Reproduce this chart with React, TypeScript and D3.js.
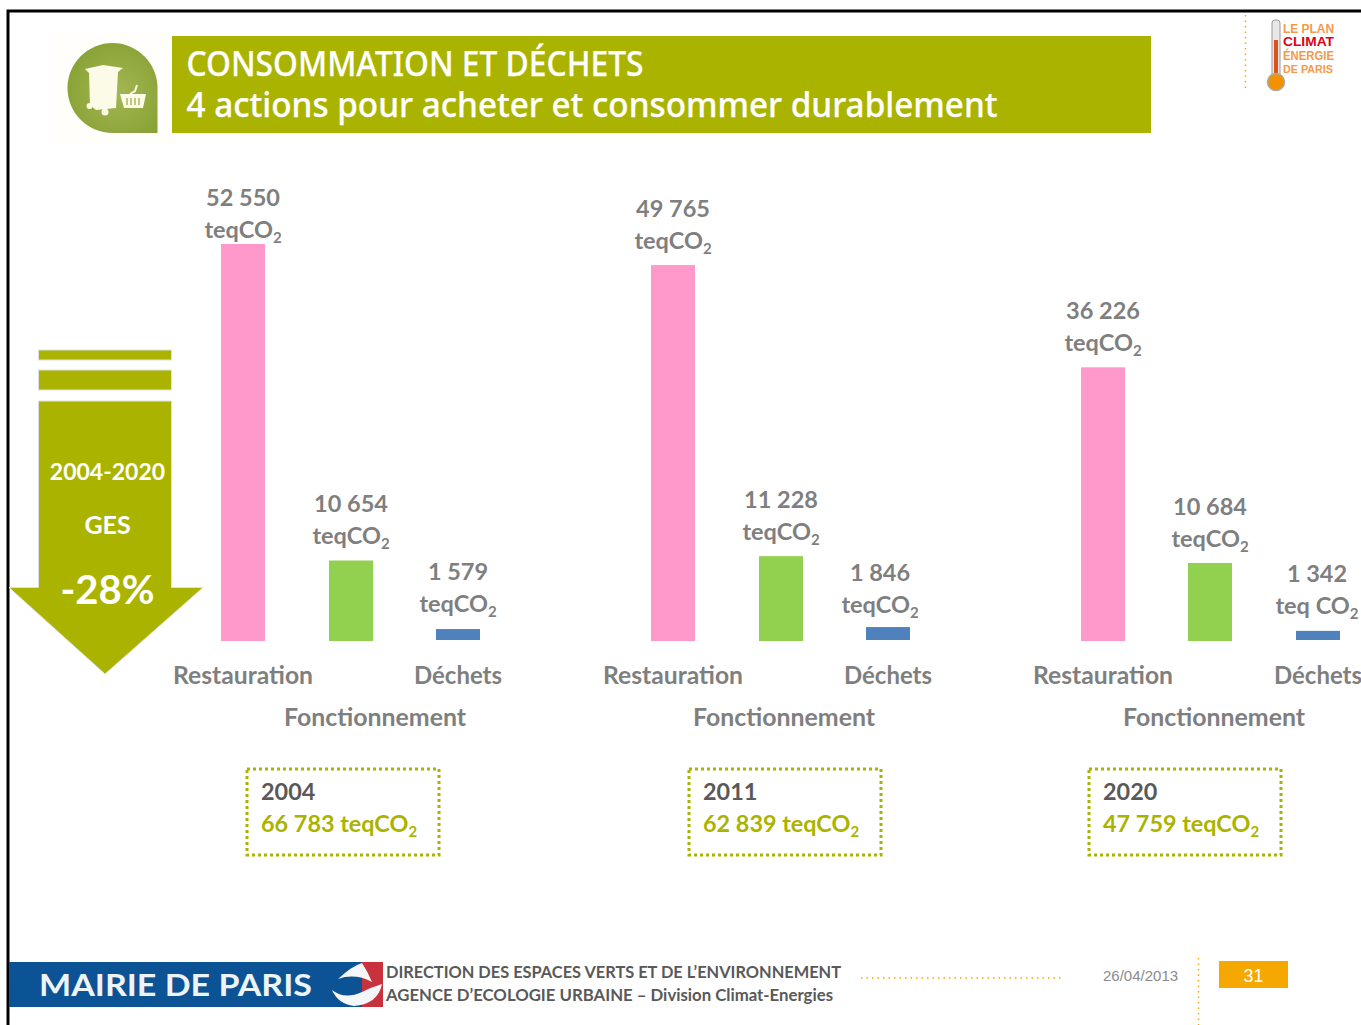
import React from "react";
import * as d3 from "d3";

const years = ["2004", "2011", "2020"];
const totals = ["66 783", "62 839", "47 759"];
const restauration = [52550, 49765, 36226];
const fonctionnement = [10654, 11228, 10684];
const dechets = [1579, 1846, 1342];
// Height actually drawn for the Fonctionnement bars: the 2020 bar stands lower than its printed label.
const fonctionnementDrawn = [10654, 11228, 10330];
const categories = ["Restauration", "Fonctionnement", "Déchets"];
const unitLabels = [
  ["teqCO", "teqCO", "teqCO"],
  ["teqCO", "teqCO", "teqCO"],
  ["teqCO", "teqCO", "teq CO"],
];
const series = [restauration, fonctionnement, dechets];
const drawnSeries = [restauration, fonctionnementDrawn, dechets];
const barColors = ["#FF99CC", "#92D050", "#4F81BD"];

const GREEN = "#AAB400";
const GREY = "#7F7F7F";
const BODY = "Lato, Carlito, sans-serif";

const fmt = (v: number) => d3.format(",")(v).replace(",", " ");

const y = d3.scaleLinear().domain([0, 52550]).range([641, 244]);
const groupX = d3.scalePoint<string>().domain(years).range([243, 1103]);
const catOffset = d3.scaleOrdinal<string, number>().domain(categories).range([0, 108, 215]);

// label layout (first-line baseline and horizontal nudge), per year and category
const labelBase = [
  [205.5, 511.5, 579.5],
  [216.5, 507.5, 580.5],
  [318.5, 514.5, 581.5],
];
const labelDx = [
  [0, 0, 0],
  [0, 0, -8],
  [0, -1, -1],
];
const catWidth = [140, 182, 88];
const fonctionnementX = [375, 784, 1214];

function Co2({ x, y, text, size, fill, anchor = "middle" }: any) {
  return (
    <text x={x} y={y} fontFamily={BODY} fontWeight={700} fontSize={size} fill={fill} textAnchor={anchor}>
      {text}
      <tspan dy={size * 0.22} fontSize={size * 0.64}>2</tspan>
    </text>
  );
}

function CatLabel({ x, y, i }: any) {
  return (
    <text x={x} y={y} textAnchor="middle" fontFamily={BODY} fontWeight={700} fontSize={24} fill={GREY}
      textLength={catWidth[i]} lengthAdjust="spacingAndGlyphs">
      {categories[i]}
    </text>
  );
}

function Chart() {
  return (
    <g>
      {years.map((yr, gi) => {
        const gx = groupX(yr)!;
        return (
          <g key={yr}>
            {categories.map((c, ci) => {
              const v = series[ci][gi];
              const cx = gx + catOffset(c)! - (gi === 2 && ci === 1 ? 1 : 0);
              const top = y(drawnSeries[ci][gi]);
              const lx = cx + labelDx[gi][ci] + (gi === 2 && ci === 1 ? 1 : 0);
              const base = labelBase[gi][ci];
              return (
                <g key={c}>
                  <rect x={cx - 22} y={top} width={44} height={y(0) - top - (ci === 2 ? 1 : 0)} fill={barColors[ci]} />
                  <text x={lx} y={base} textAnchor="middle" fontFamily={BODY} fontWeight={700} fontSize={23.5} fill={GREY}>
                    {fmt(v)}
                  </text>
                  <Co2 x={lx} y={base + 32} text={unitLabels[gi][ci]} size={23.5} fill={GREY} />
                </g>
              );
            })}
            <CatLabel x={gx} y={684} i={0} />
            <CatLabel x={gx + 215} y={684} i={2} />
            <CatLabel x={fonctionnementX[gi]} y={726} i={1} />
          </g>
        );
      })}
    </g>
  );
}

const boxX = [247, 689, 1089];
function TotalBoxes() {
  return (
    <g>
      {years.map((yr, i) => (
        <g key={yr}>
          <rect x={boxX[i]} y={769} width={192} height={86} fill="none" stroke={GREEN} strokeWidth={3} strokeDasharray="3 3" />
          <text x={boxX[i] + 14} y={800} fontFamily={BODY} fontWeight={700} fontSize={23.4} fill="#595959">{yr}</text>
          <Co2 x={boxX[i] + 14} y={832} text={`${totals[i]} teqCO`} size={23.4} fill={GREEN} anchor="start" />
        </g>
      ))}
    </g>
  );
}

function Header() {
  const cream = "#FBFBE8";
  return (
    <g>
      <defs>
        <radialGradient id="drop" cx="0.55" cy="0.55" r="0.6">
          <stop offset="0" stopColor="#A3B653" />
          <stop offset="1" stopColor="#88A235" />
        </radialGradient>
      </defs>
      <rect x={52} y={33} width={120} height={112} fill="#FFFEFA" />
      <path d="M157.5 133 L112.5 133 A45 45 0 1 1 157.5 88 Z" fill="url(#drop)" />
      <path d="M85 69 L103 65 L123 68 L118 72 L116 108 L96 110 L90 105 L89 73 Z" fill={cream} />
      <circle cx={105} cy={112} r={3.5} fill={cream} />
      <circle cx={89.5} cy={106} r={3} fill={cream} />
      <path d="M120 94 L146 94 L143 108 L124 108 Z" fill={cream} />
      <path d="M127 98 V105 M131 98 V105 M135 98 V105 M139 98 V105" stroke="#9DB04A" strokeWidth={1.3} />
      <path d="M130 94 L135 91 L137 85" stroke={cream} strokeWidth={2} fill="none" />
      <rect x={172} y={36} width={979} height={97} fill={GREEN} />
      <g fontFamily="'Noto Sans', sans-serif" fontWeight={500} fontSize={34} fill="#fff" stroke="#fff" strokeWidth={0.25}>
        <text x={186.5} y={76} textLength={457} lengthAdjust="spacingAndGlyphs">CONSOMMATION ET DÉCHETS</text>
        <text x={186.5} y={117} textLength={811} lengthAdjust="spacingAndGlyphs">4 actions pour acheter et consommer durablement</text>
      </g>
      <line x1={1245.5} y1={15} x2={1245.5} y2={92} stroke="#F4A800" strokeWidth={1.5} strokeDasharray="1.5 4" />
      <rect x={1272} y={20} width={8} height={60} rx={3} fill="#E8E8E8" stroke="#999" />
      <rect x={1274} y={40} width={4} height={40} fill="#E0501A" />
      <circle cx={1276} cy={82} r={8.5} fill="#F39200" stroke="#AAA" strokeWidth={1.5} />
      <g fontFamily="'Liberation Sans', sans-serif" fontWeight={700}>
        <text x={1283} y={32.5} fontSize={12} fill="#F39A4A" textLength={51} lengthAdjust="spacingAndGlyphs">LE PLAN</text>
        <text x={1283} y={46} fontSize={13} fill="#E2001A" textLength={51} lengthAdjust="spacingAndGlyphs">CLIMAT</text>
        <text x={1283} y={60} fontSize={12} fill="#F39A4A" textLength={51} lengthAdjust="spacingAndGlyphs">ÉNERGIE</text>
        <text x={1283} y={72.5} fontSize={11} fill="#F39A4A" textLength={50} lengthAdjust="spacingAndGlyphs">DE PARIS</text>
      </g>
    </g>
  );
}

function Arrow() {
  return (
    <g>
      <g fill={GREEN} stroke="#DDE0E0" strokeWidth={1}>
        <rect x={38.5} y={350} width={133} height={10} />
        <rect x={38.5} y={370} width={133} height={20} />
        <path d="M38.5 401 H171.5 V587.5 H203 L105 674 L9 587.5 H38.5 Z" />
      </g>
      <text x={107.5} y={480} textAnchor="middle" fontFamily={BODY} fontWeight={700} fontSize={23} fill="#fff">2004-2020</text>
      <text x={107.5} y={533.5} textAnchor="middle" fontFamily={BODY} fontWeight={700} fontSize={25} fill="#fff">GES</text>
      <text x={107.5} y={604} textAnchor="middle" fontFamily={BODY} fontWeight={700} fontSize={40} fill="#fff">-28%</text>
    </g>
  );
}

function Footer() {
  return (
    <g>
      <rect x={9} y={962} width={374} height={45} fill="#0B5394" />
      <path d="M362 962 H383 V1007 H362 Z" fill="#C8323C" />
      <path d="M338 979 Q352 966 362 963 Q368 972 372 982 Q355 973 338 979 Z" fill="#F4F6F8" />
      <path d="M332 990 Q345 1000 362 992 Q372 987 382 984 Q378 1004 354 1006 Q338 1004 332 990 Z" fill="#F4F6F8" />
      <text x={39} y={996} fontFamily="Lato, sans-serif" fontWeight={700} fontSize={31} fill="#EEF4F6" textLength={273} lengthAdjust="spacingAndGlyphs">MAIRIE DE PARIS</text>
      <text x={386} y={978} fontFamily={BODY} fontWeight={700} fontSize={17} fill="#595959" textLength={455} lengthAdjust="spacingAndGlyphs">DIRECTION DES ESPACES VERTS ET DE L’ENVIRONNEMENT</text>
      <text x={386} y={1001} fontFamily={BODY} fontWeight={700} fontSize={17} fill="#595959" textLength={447} lengthAdjust="spacingAndGlyphs">AGENCE D’ECOLOGIE URBAINE – Division Climat-Energies</text>
      <line x1={861} y1={978} x2={1063} y2={978} stroke="#F4A800" strokeWidth={1.5} strokeDasharray="1.5 4" />
      <text x={1103} y={981} fontFamily="'Liberation Sans', sans-serif" fontSize={15} fill="#8B8B8B">26/04/2013</text>
      <line x1={1198.5} y1={958} x2={1198.5} y2={1025} stroke="#F4A800" strokeWidth={1.5} strokeDasharray="1.5 4" />
      <rect x={1219} y={961} width={69} height={27} fill="#F4A800" />
      <text x={1253.5} y={982} textAnchor="middle" fontFamily="'Liberation Sans', sans-serif" fontSize={18} fill="#fff">31</text>
    </g>
  );
}

export default function App() {
  return (
    <svg width={1361} height={1025} style={{ position: "absolute", left: 0, top: 0, background: "#fff" }}>
      <path d="M8 1025 V11 H1361" fill="none" stroke="#000" strokeWidth={3} />
      <Header />
      <Arrow />
      <Chart />
      <TotalBoxes />
      <Footer />
    </svg>
  );
}
